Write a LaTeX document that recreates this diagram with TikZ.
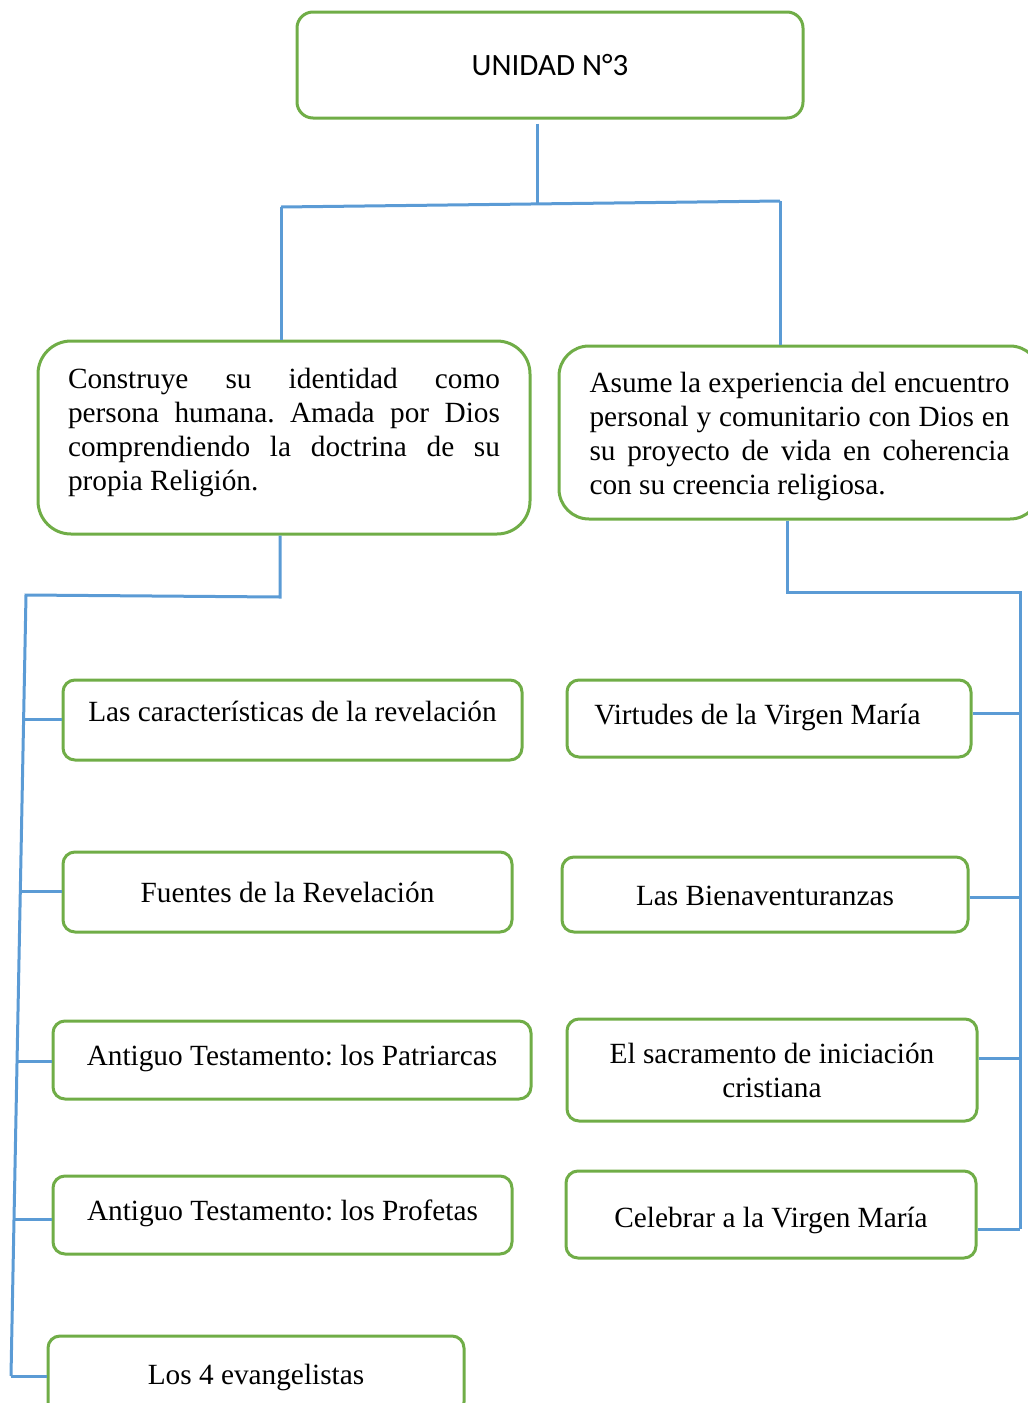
\documentclass[tikz,border=0pt]{standalone}
\usepackage{fontspec}
\setmainfont{Liberation Serif}
\newfontfamily\calib{Carlito}
\usetikzlibrary{calc}
\definecolor{boxgreen}{HTML}{70AD47}
\definecolor{lineblue}{HTML}{5B9BD5}
\frenchspacing
\newcommand\jline[1]{\hbox to\linewidth{\spaceskip=0.25em plus 1fil\relax #1}}
\begin{document}
\begin{tikzpicture}[x=1pt,y=-1pt,
  box/.style={draw=boxgreen,line width=3pt,rounded corners=12pt,inner sep=0pt,align=center,
    font=\fontsize{29.3}{34}\selectfont},
  conn/.style={draw=lineblue,line width=3pt}]
\useasboundingbox (0,0) rectangle (1028,1403);
\clip (0,0) rectangle (1028,1403);

% top
\node[box,rounded corners=16pt,minimum width=506pt,minimum height=106pt,
  font=\calib\fontsize{31}{36}\selectfont] (top) at (550,65) {UNIDAD N°3};

% big boxes
\node[box,rounded corners=33pt,minimum width=492pt,minimum height=193pt] (L) at (284,437.5)
 {\parbox{432pt}{\jline{Construye su identidad como}\jline{persona humana. Amada por Dios}\jline{comprendiendo la doctrina de su}\hbox{propia Religión.\rule[-16pt]{0pt}{16pt}}}};
\node[box,rounded corners=30pt,minimum width=481pt,minimum height=173pt] (R) at (799.5,432.5)
 {\parbox{420pt}{\vspace*{8pt}\jline{Asume la experiencia del encuentro}\jline{personal y comunitario con Dios en}\jline{su proyecto de vida en coherencia}\hbox{con su creencia religiosa.}}};

% left boxes
\node[box,minimum width=459pt,minimum height=80pt] (b1) at (292.5,720) {Las características de la revelación\rule[-17pt]{0pt}{17pt}};
\node[box,minimum width=449pt,minimum height=80pt] (b2) at (287.5,892) {Fuentes de la Revelación\rule{0pt}{22pt}};
\node[box,minimum width=478pt,minimum height=78pt] (b3) at (292,1060) {Antiguo Testamento: los Patriarcas\rule[-10pt]{0pt}{10pt}};
\node[box,minimum width=459pt,minimum height=78pt] (b4) at (282.5,1215) {Antiguo Testamento: los Profetas\rule[-10pt]{0pt}{10pt}};
\node[box,minimum width=416pt,minimum height=78pt] (b5) at (256,1375) {Los 4 evangelistas\rule{0pt}{26pt}};

% right boxes
\node[box,minimum width=404pt,minimum height=77pt] (c1) at (769,718.5) {Virtudes de la Virgen María\hspace*{23pt}\rule[-8pt]{0pt}{8pt}};
\node[box,minimum width=406pt,minimum height=75pt] (c2) at (765,894.5) {Las Bienaventuranzas\rule{0pt}{22pt}};
\node[box,minimum width=410pt,minimum height=102pt] (c3) at (772,1070) {El sacramento de iniciación\\cristiana\rule{0pt}{22pt}};
\node[box,minimum width=410pt,minimum height=87pt] (c4) at (771,1214.5) {Celebrar a la Virgen María\rule{0pt}{32pt}};

% top connectors
\coordinate (tm) at (537,205);
\coordinate (tl) at (281,207);
\coordinate (tr) at (780,201);
\draw[conn,shorten <=4pt] (top.south -| tm) -- (tm);
\draw[conn] (tl) -- (tr);
\draw[conn] (tl) -- (tl |- L.north);
\draw[conn] (tr) -- (tr |- R.north);

% left tree
\coordinate (lb) at (280,597);
\coordinate (lc) at (26,595);
\coordinate (ld) at (11,1376);
\draw[conn] (L.south -| lb) -- (lb) -- (lc) -- (ld);
\coordinate (l1) at (23.6,719);
\coordinate (l2) at (20.3,891);
\coordinate (l3) at (17,1061);
\coordinate (l4) at (14,1219);
\draw[conn] (l1) -- (b1.west |- l1);
\draw[conn] (l2) -- (b2.west |- l2);
\draw[conn] (l3) -- (b3.west |- l3);
\draw[conn] (l4) -- (b4.west |- l4);
\draw[conn] (ld) -- (b5.west |- ld);

% right tree
\coordinate (rb) at (787,592);
\coordinate (rc) at (1020,592);
\coordinate (rd) at (1020,1229);
\draw[conn] (R.south -| rb) -- (rb) -- (rc) -- (rd);
\coordinate (r1) at (1020,713);
\coordinate (r2) at (1020,897);
\coordinate (r3) at (1020,1058);
\draw[conn] (c1.east |- r1) -- (r1);
\draw[conn] (c2.east |- r2) -- (r2);
\draw[conn] (c3.east |- r3) -- (r3);
\draw[conn] (c4.east |- rd) -- (rd);
\end{tikzpicture}
\end{document}
